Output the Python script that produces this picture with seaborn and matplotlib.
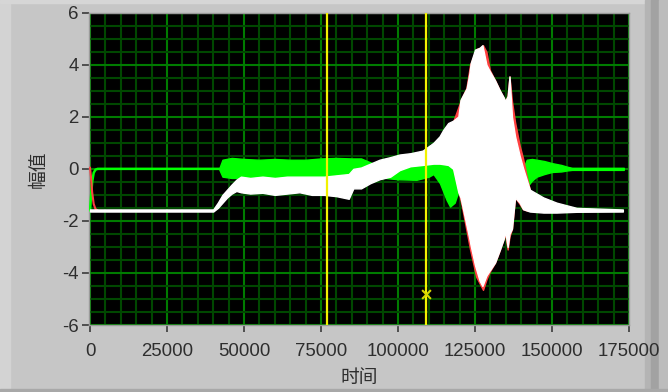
import matplotlib
matplotlib.use("Agg")
import numpy as np
import pandas as pd
import seaborn as sns
import matplotlib.pyplot as plt
from matplotlib.patches import Rectangle
from matplotlib.ticker import MultipleLocator

# ---------------- data ----------------
x_ticks = [0, 25000, 50000, 75000, 100000, 125000, 150000, 175000]
y_ticks = [-6, -4, -2, 0, 2, 4, 6]

# white channel envelope (lower / upper)
white_x = [0, 40000, 41500, 43000, 44500, 46000, 47500, 49000, 52000, 56000, 60000,
           64000, 68000, 72000, 76000, 80000, 84000, 85500, 88000, 91000, 94000,
           97500, 100500, 104000, 108000, 111500, 113500, 114700, 116300, 117900,
           119600, 120300, 122300, 123200, 123600, 125000, 126500, 127400, 128700,
           129800, 131500, 133100, 134300, 134800, 135600, 136200, 137000, 138000,
           139500, 140600, 142800, 147200, 151500, 158000, 173000]
white_lo = [-1.64, -1.64, -1.5, -1.3, -1.1, -0.95, -0.85, -0.9, -0.95, -0.92, -1.0,
            -0.95, -0.9, -1.0, -1.0, -1.05, -1.15, -0.75, -0.75, -0.55, -0.4,
            -0.3, -0.05, 0.1, 0.15, 0.2, 0.2, 0.18, 0.15, 0.0,
            -0.9, -1.1, -2.2, -2.7, -2.95, -3.7, -4.3, -4.5, -4.1,
            -3.9, -3.6, -3.1, -2.7, -2.4, -3.0, -2.5, -2.3, -1.1,
            -1.3, -1.55, -1.64, -1.68, -1.68, -1.65, -1.64]
white_hi = [-1.56, -1.56, -1.3, -1.0, -0.8, -0.6, -0.42, -0.3, -0.35, -0.3, -0.35,
            -0.3, -0.3, -0.3, -0.3, -0.25, -0.2, 0.0, 0.05, 0.2, 0.35,
            0.45, 0.55, 0.6, 0.7, 1.0, 1.25, 1.5, 1.76, 1.85,
            2.01, 2.65, 3.1, 3.68, 4.06, 4.58, 4.65, 4.75, 4.0,
            3.75, 3.4, 3.0, 2.75, 2.6, 2.8, 3.55, 2.0, 1.25,
            0.5, 0.03, -0.8, -1.1, -1.3, -1.5, -1.56]

# green channel: start-up transient line, then band
green_start_x = [0, 300, 700, 1200, 1800, 2500, 42000]
green_start_y = [-1.6, -1.1, -0.5, -0.15, -0.03, 0.0, 0.0]
green_x = [42000, 43000, 46000, 50000, 55000, 60000, 65000, 70000, 75000, 80000,
           85000, 88000, 92000, 96000, 100000, 106000, 110000, 111500, 113600,
           115800, 116900, 118400, 119500, 125000, 135000, 140600, 141800, 143500,
           145000, 147500, 150000, 153000, 155000, 156500, 173300]
green_lo = [-0.03, -0.3, -0.35, -0.35, -0.3, -0.38, -0.32, -0.35, -0.3, -0.3,
            -0.2, -0.2, -0.25, -0.35, -0.4, -0.42, -0.3, -0.2, -0.55,
            -1.2, -1.45, -1.3, -0.9, -0.5, -0.5, -0.5, -0.7, -0.45,
            -0.3, -0.2, -0.12, -0.1, -0.06, -0.04, -0.04]
green_hi = [0.03, 0.35, 0.42, 0.38, 0.35, 0.38, 0.35, 0.35, 0.4, 0.42,
            0.4, 0.4, 0.2, 0.15, 0.2, 0.25, 0.35, 0.3, 0.3,
            0.2, 0.1, 0.0, -0.2, 0.0, 0.0, 0.0, 0.35, 0.38,
            0.35, 0.3, 0.22, 0.15, 0.08, 0.04, 0.04]

# red channel: start-up transient line, then band around the burst
red_start_x = [0, 300, 700, 1200, 1800, 2500]
red_start_y = [0.05, -0.3, -0.9, -1.35, -1.55, -1.6]
red_x = [118000, 120600, 122200, 123400, 125400, 126500, 127600, 128700, 129800,
         131500, 133100, 134800, 135600, 136200, 137000, 138000, 139500, 140600,
         141800, 142800]
red_lo = [0.0, -1.35, -2.35, -3.1, -4.15, -4.4, -4.65, -4.25, -3.95,
          -3.6, -3.1, -2.5, -3.1, -2.6, -2.3, -1.1, -1.35, -1.55, -1.6, -1.6]
red_hi = [1.85, 2.7, 3.1, 4.0, 4.6, 4.65, 4.75, 4.5, 3.8,
          3.4, 3.0, 2.6, 2.8, 3.55, 2.6, 1.8, 0.9, 0.4, -0.3, -0.8]

# cursors
cursor_x = [77000, 109000]
cursor_mark_x = [109000]
cursor_mark_y = [-4.8]

# ---------------- style ----------------
sns.set_theme(style="dark")
plt.rcParams["font.family"] = ["Liberation Sans", "Noto Sans CJK SC", "DejaVu Sans"]

BG = "#c6c6c6"
TXT = "#2e2e2e"
W, H = 668, 392
fig = plt.figure(figsize=(W / 100, H / 100), dpi=100, facecolor=BG)

# window frame details (behind everything)
def frame_rect(x0, y0, w, h, c):
    fig.patches.append(Rectangle((x0 / W, y0 / H), w / W, h / H, transform=fig.transFigure,
                                 color=c, zorder=-5))

frame_rect(0, 0, 10, H, "#d3d3d3")
frame_rect(0, H - 3, W, 3, "#d6d6d6")
frame_rect(645, 0, 6, H, "#b4b4b4")
frame_rect(651, 0, 8, H, "#a2a2a2")
frame_rect(659, 0, 9, H, "#bcbcbc")
frame_rect(0, 0, W, 3, "#a8a8a8")

L, R, T, B = 88.5, 629.0, 12.7, 325.0
ax = fig.add_axes([L / W, (H - B) / H, (R - L) / W, (B - T) / H])
ax.set_facecolor("black")

# signals
ax.fill_between(green_x, green_lo, green_hi, color="#00ff00", lw=1.0, edgecolor="#00ff00", zorder=3)
sns.lineplot(x=green_start_x, y=green_start_y, ax=ax, color="#00ff00", lw=1.8, sort=False,
             estimator=None, zorder=3)
ax.fill_between(red_x, red_lo, red_hi, color="#ff4040", lw=1.0, edgecolor="#ff4040", zorder=4)
sns.lineplot(x=red_start_x, y=red_start_y, ax=ax, color="#ff4040", lw=1.5, sort=False,
             estimator=None, zorder=4)
ax.fill_between(white_x, white_lo, white_hi, color="white", lw=1.0, edgecolor="white", zorder=5)

# cursors
for cx in cursor_x:
    ax.axvline(cx, color="#f2f200", lw=1.6, zorder=6)
sns.scatterplot(x=cursor_mark_x, y=cursor_mark_y, ax=ax, marker="x", s=40, color="#d8d800",
                linewidth=1.5, zorder=7)

# axes
ax.set_xlim(-490, 175000)
ax.set_ylim(-6, 6)
ax.set_xticks(x_ticks)
ax.set_xticklabels([str(v) for v in x_ticks])
ax.set_yticks(y_ticks)
ax.set_yticklabels([str(v) for v in y_ticks])
ax.xaxis.set_minor_locator(MultipleLocator(5000))
ax.yaxis.set_minor_locator(MultipleLocator(0.5))
ax.grid(which="major", color="#007c00", lw=1.5, zorder=1)
ax.grid(which="minor", color="#004800", lw=1.5, zorder=1)
ax.set_axisbelow(True)
ax.tick_params(which="minor", length=0)
ax.tick_params(axis="y", which="major", length=5, width=1.2, color="#3a3a3a", pad=2,
               labelsize=13.4, labelcolor=TXT, left=True)
ax.tick_params(axis="x", which="major", length=5, width=1.2, color="#3a3a3a", pad=8,
               labelsize=13.4, labelcolor=TXT, bottom=True)
for s in ax.spines.values():
    s.set_visible(True)
    s.set_color("#9a9a9a")
    s.set_linewidth(1.0)

ax.set_xlabel("时间", fontsize=13.5, color=TXT, family=["Noto Sans CJK SC", "DejaVu Sans"])
ax.set_ylabel("幅值", fontsize=13.5, color=TXT, family=["Noto Sans CJK SC", "DejaVu Sans"])
ax.xaxis.set_label_coords((359 - L) / (R - L), -(377 - B) / (B - T))
ax.xaxis.label.set_va("center")
ax.yaxis.set_label_coords((38 - L) / (R - L), 0.5)
ax.yaxis.label.set_va("center")

fig.savefig("out.png", dpi=100, facecolor=BG)
